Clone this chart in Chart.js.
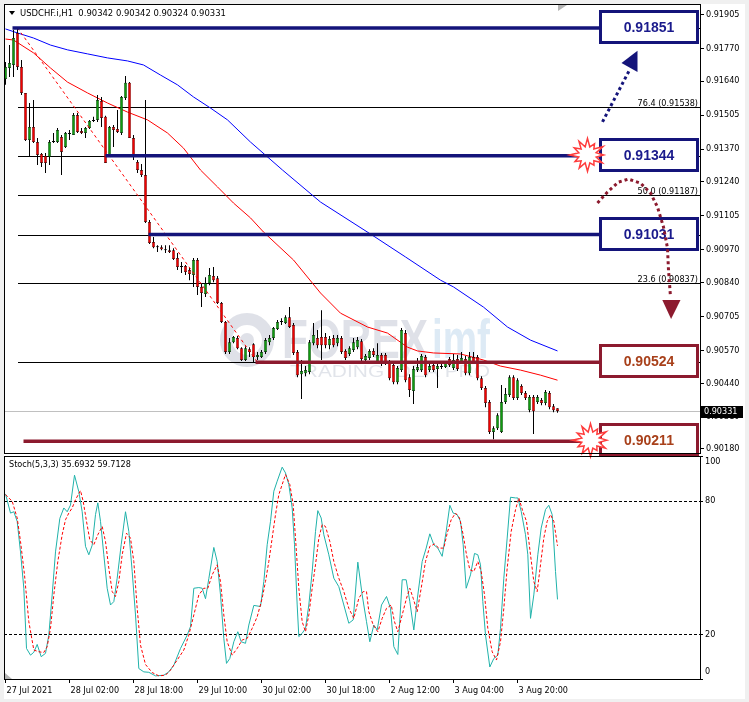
<!DOCTYPE html>
<html><head><meta charset="utf-8"><title>USDCHF.i H1</title>
<script src="https://cdn.jsdelivr.net/npm/chart.js@4.4.1/dist/chart.umd.min.js"></script>
<style>
html,body{margin:0;padding:0;width:749px;height:702px;overflow:hidden;background:#f0f0f0;}
#paper{position:absolute;left:4px;top:4px;width:741px;height:695px;background:#fff;}
canvas{position:absolute;left:0;}
#mainCanvas{top:0;}
#stochCanvas{top:455px;}
</style></head>
<body>
<div id="paper"></div>
<canvas id="mainCanvas" width="749" height="460"></canvas>
<canvas id="stochCanvas" width="749" height="247"></canvas>
<script>
// ================= DATA =================
const symbolHeader = 'USDCHF.i,H1  0.90342 0.90342 0.90324 0.90331';
const stochHeader = 'Stoch(5,3,3) 35.6932 59.7128';
const priceTicks = [0.91905,0.91770,0.91640,0.91505,0.91370,0.91240,0.91105,0.90970,0.90840,0.90705,0.90570,0.90440,0.90310,0.90180];
const stochTicks = [100, 80, 20, 0];
const stochLevels = [80, 20];
const timeLabels = ['27 Jul 2021','28 Jul 02:00','28 Jul 18:00','29 Jul 10:00','30 Jul 02:00','30 Jul 18:00','2 Aug 12:00','3 Aug 04:00','3 Aug 20:00'];
const timeLabelBars = [0,16,32,48,64,80,96,112,128];

const opens = [0.91648,0.91692,0.91704,0.91831,0.91696,0.91593,0.91406,0.91458,0.91398,0.91351,
0.91343,0.91339,0.91398,0.91398,0.91418,0.91378,0.91430,0.91426,0.91505,0.91442,
0.91434,0.91454,0.91482,0.91486,0.91561,0.91498,0.91339,0.91458,0.91450,0.91434,
0.91573,0.91633,0.91414,0.91319,0.91287,0.91267,0.91081,0.91001,0.90985,0.90981,
0.90969,0.90969,0.90969,0.90938,0.90906,0.90906,0.90890,0.90870,0.90930,0.90823,
0.90795,0.90838,0.90866,0.90858,0.90759,0.90684,0.90565,0.90604,0.90620,0.90580,
0.90533,0.90576,0.90596,0.90545,0.90545,0.90565,0.90604,0.90620,0.90656,0.90684,
0.90680,0.90703,0.90672,0.90565,0.90477,0.90481,0.90485,0.90600,0.90620,0.90624,
0.90624,0.90592,0.90620,0.90600,0.90620,0.90569,0.90557,0.90573,0.90584,0.90608,
0.90533,0.90541,0.90569,0.90521,0.90553,0.90553,0.90525,0.90513,0.90445,0.90493,
0.90640,0.90465,0.90410,0.90493,0.90493,0.90545,0.90493,0.90513,0.90497,0.90505,
0.90505,0.90537,0.90501,0.90537,0.90525,0.90537,0.90481,0.90545,0.90545,0.90461,
0.90422,0.90366,0.90247,0.90262,0.90247,0.90366,0.90394,0.90465,0.90382,0.90430,
0.90402,0.90334,0.90386,0.90366,0.90374,0.90362,0.90402,0.90350,0.90342];
const highs = [0.91716,0.91783,0.91843,0.91851,0.91724,0.91593,0.91553,0.91565,0.91414,0.91355,
0.91355,0.91406,0.91434,0.91454,0.91426,0.91438,0.91446,0.91513,0.91513,0.91454,
0.91458,0.91486,0.91498,0.91585,0.91577,0.91502,0.91462,0.91466,0.91525,0.91581,
0.91660,0.91636,0.91426,0.91327,0.91311,0.91565,0.91089,0.91021,0.90989,0.90989,
0.90989,0.90989,0.90977,0.90958,0.90922,0.90910,0.90898,0.90938,0.90938,0.90838,
0.90862,0.90898,0.90902,0.90866,0.90763,0.90688,0.90620,0.90628,0.90628,0.90584,
0.90588,0.90584,0.90600,0.90565,0.90573,0.90620,0.90632,0.90664,0.90692,0.90699,
0.90711,0.90743,0.90680,0.90573,0.90533,0.90509,0.90612,0.90680,0.90652,0.90731,
0.90640,0.90628,0.90632,0.90632,0.90628,0.90576,0.90588,0.90620,0.90624,0.90616,
0.90557,0.90576,0.90580,0.90600,0.90561,0.90561,0.90533,0.90521,0.90509,0.90660,
0.90652,0.90477,0.90509,0.90541,0.90557,0.90553,0.90525,0.90521,0.90521,0.90517,
0.90529,0.90545,0.90557,0.90553,0.90565,0.90549,0.90565,0.90565,0.90553,0.90469,
0.90430,0.90374,0.90270,0.90322,0.90434,0.90422,0.90473,0.90473,0.90461,0.90437,
0.90410,0.90394,0.90394,0.90394,0.90382,0.90414,0.90410,0.90358,0.90342];
const lows = [0.91625,0.91656,0.91656,0.91684,0.91585,0.91402,0.91339,0.91394,0.91307,0.91299,
0.91275,0.91307,0.91394,0.91394,0.91267,0.91374,0.91406,0.91426,0.91434,0.91430,
0.91414,0.91450,0.91478,0.91478,0.91458,0.91315,0.91339,0.91378,0.91434,0.91426,
0.91565,0.91414,0.91327,0.91275,0.91259,0.91077,0.90993,0.90977,0.90962,0.90969,
0.90958,0.90958,0.90930,0.90890,0.90878,0.90870,0.90850,0.90823,0.90791,0.90743,
0.90783,0.90830,0.90842,0.90755,0.90680,0.90557,0.90557,0.90600,0.90576,0.90529,
0.90529,0.90545,0.90525,0.90533,0.90541,0.90557,0.90592,0.90612,0.90652,0.90672,
0.90676,0.90660,0.90553,0.90465,0.90378,0.90469,0.90477,0.90592,0.90580,0.90533,
0.90580,0.90576,0.90584,0.90588,0.90557,0.90533,0.90549,0.90565,0.90576,0.90529,
0.90525,0.90533,0.90545,0.90517,0.90509,0.90513,0.90453,0.90437,0.90437,0.90485,
0.90445,0.90386,0.90358,0.90485,0.90485,0.90465,0.90485,0.90485,0.90422,0.90497,
0.90501,0.90505,0.90493,0.90489,0.90517,0.90473,0.90473,0.90517,0.90453,0.90414,
0.90346,0.90239,0.90219,0.90255,0.90243,0.90358,0.90386,0.90374,0.90374,0.90394,
0.90374,0.90326,0.90239,0.90358,0.90354,0.90354,0.90338,0.90326,0.90324];
const closes = [0.91696,0.91712,0.91811,0.91696,0.91593,0.91406,0.91458,0.91398,0.91347,0.91315,
0.91315,0.91398,0.91402,0.91446,0.91359,0.91434,0.91434,0.91505,0.91438,0.91434,
0.91454,0.91482,0.91486,0.91565,0.91494,0.91315,0.91458,0.91446,0.91438,0.91577,
0.91633,0.91414,0.91339,0.91287,0.91267,0.91081,0.90997,0.90981,0.90981,0.90973,
0.90973,0.90962,0.90934,0.90902,0.90902,0.90882,0.90874,0.90930,0.90823,0.90799,
0.90838,0.90870,0.90850,0.90759,0.90684,0.90565,0.90604,0.90624,0.90580,0.90533,
0.90580,0.90565,0.90545,0.90553,0.90565,0.90612,0.90620,0.90660,0.90684,0.90688,
0.90703,0.90664,0.90561,0.90473,0.90489,0.90493,0.90604,0.90632,0.90592,0.90592,
0.90592,0.90616,0.90592,0.90620,0.90565,0.90541,0.90580,0.90604,0.90612,0.90537,
0.90549,0.90569,0.90553,0.90553,0.90525,0.90521,0.90461,0.90445,0.90501,0.90652,
0.90453,0.90414,0.90497,0.90505,0.90549,0.90473,0.90509,0.90493,0.90509,0.90509,
0.90521,0.90513,0.90533,0.90497,0.90541,0.90481,0.90545,0.90525,0.90461,0.90422,
0.90362,0.90247,0.90262,0.90314,0.90366,0.90398,0.90465,0.90382,0.90453,0.90402,
0.90382,0.90386,0.90330,0.90386,0.90362,0.90406,0.90346,0.90334,0.90331];
const lastPrice = 0.90331;

const maRedBars = [0,2,7,11.25,15.5,20.5,25.5,30.5,35.5,40.5,44.5,48.75,53,57,61.25,64.5,72,78.75,83.75,90.5,95.5,100.5,103,107,113.75,119.5,123.75,128.75,133.75,138];
const maRedValues = [0.91807,0.91803,0.91752,0.91692,0.91636,0.91593,0.91553,0.91517,0.91486,0.91434,0.91374,0.91287,0.91220,0.91156,0.91097,0.91041,0.90930,0.90799,0.90719,0.90664,0.90640,0.90584,0.90569,0.90561,0.90557,0.90533,0.90509,0.90493,0.90473,0.90453];
const maBlueBars = [0,3,7,11.25,15.5,20.5,25.5,30.5,34.5,38.75,43,47,51.25,55.5,61.25,69.25,78.75,91.25,100,108.75,112,119.5,125.5,131.25,138];
const maBlueValues = [0.91847,0.91831,0.91811,0.91783,0.91764,0.91748,0.91732,0.91720,0.91704,0.91664,0.91625,0.91577,0.91533,0.91486,0.91398,0.91287,0.91160,0.91033,0.90942,0.90850,0.90823,0.90743,0.90664,0.90612,0.90569];
const trendBars = [3, 63];
const trendValues = [0.91851, 0.90524];

const fibStartBar = 3;
const fibLevels = [0.91851,0.91538,0.91344,0.91187,0.91031,0.90837,0.90524];
const fibLabels = ['100.0 (0.91851)','76.4 (0.91538)','61.8 (0.91344)','50.0 (0.91187)','38.2 (0.91031)','23.6 (0.90837)','0.0 (0.90524)'];

const levelValues = [0.91851,0.91344,0.91031,0.90524,0.90211];
const levelTexts = ['0.91851','0.91344','0.91031','0.90524','0.90211'];
const levelStartBars = [1.75,25,35.75,62.5,4.5];
const levelKinds = ['up','up','up','down','down'];
const boxStartBar = 148.4;

const upArrowBars = [149.25,156];
const upArrowPrices = [0.91478,0.91684];
const upHeadBars = [158,154,158];
const upHeadPrices = [0.91760,0.91712,0.91676];
const downArcBars = [148,150.5,153.25,155.75,158.75,161.25,163,164.5,165.5,165.75,166.25];
const downArcPrices = [0.91156,0.91200,0.91239,0.91251,0.91235,0.91196,0.91140,0.91061,0.90977,0.90890,0.90783];
const downHeadBars = [164.2,168.75,166.4];
const downHeadPrices = [0.90771,0.90771,0.90696];
const burstBars = [145.5,146.25];
const burstPrices = [0.91347,0.90215];

const stochKBars = [0,1.25,2.08,2.92,3.75,4.58,5.25,6.25,7.08,7.92,8.92,10,10.83,11.67,12.5,13.58,14.58,15.42,16.25,17.25,18.33,19.17,20,20.83,21.67,22.5,23.08,23.75,24.58,25.42,26.25,27.08,27.92,28.92,30,30.83,31.67,32.5,33.33,34.58,35.83,37.5,39.58,40.83,42.08,43.75,45.42,46.25,47.08,48.33,49.17,50,50.83,52.08,52.92,53.75,54.58,55.25,56.08,57.08,58.08,58.92,60,60.83,62.08,63.75,64.58,65.42,66.25,67.08,67.92,69.17,70,70.83,71.67,72.25,72.92,73.33,74.17,75,75.83,76.67,77.5,78.08,78.92,79.58,80.83,82.08,83.33,84.58,85.83,86.92,88.08,89.17,90.25,91.08,92.08,92.92,94,95.25,96.25,97.08,98.08,99.17,100.17,101.08,102.08,103.08,104.17,105.17,106.08,107.08,108.08,109.17,110.17,111.08,111.92,112.92,113.75,114.42,115.17,116.25,117.25,118.08,118.75,119.33,120,121.08,122.08,123.08,123.75,124.58,125.42,126.25,127.5,128.08,128.92,130,130.58,131.25,132.08,133.08,133.92,135,135.83,136.67,137.5,138];
const stochKValues = [83,74.4,75,70.7,57,40.7,13.7,10.7,12,15.5,10,11.5,19.7,37.7,57,72,76.7,75,78,91.4,84,75,59.5,55.7,60,73.7,79,70.7,55.7,40.7,33.2,34.7,45.2,60.2,75,66.2,48.2,28.7,4.7,3.2,3,1.4,1.7,3.2,6.2,13.7,19.7,23.5,40.7,41,40.7,36,45,59,52.7,37.7,18.2,7,9.2,16.7,21.2,16.7,16,24.2,33,32.5,43.7,60.2,70.7,84.2,88.7,95,92.4,87.2,76.7,60.2,33.2,19,20.5,22.7,33.2,48.2,66.2,75.5,72.2,64.7,55.7,45.2,41.4,33.2,25,26.5,52.4,37.7,25.7,16.7,24.2,22,33.2,37,31.7,14.5,11,44.5,44.5,34.7,22,37.7,52.7,58.7,65.1,60.2,58.7,55,66.2,77.9,74.4,73.7,70.7,60.2,40.7,46.7,56.3,55.7,51.2,34.7,19.7,5.4,9.2,10.7,22.7,45.2,63.2,81.5,81.2,81.2,75.2,64.7,55.7,27.2,37.7,55.7,67.7,76,77.9,73.7,48.2,35.69];
const stochDBars = [0,1.67,2.92,3.75,4.75,5.83,7.08,8.33,9.58,10.42,11.25,12.08,13.08,14.17,15,15.83,16.67,17.5,18.75,19.42,20.25,21.08,22.08,23.08,24.17,25,25.83,26.67,27.5,28.33,29.17,30.25,31.25,32.08,32.92,33.75,35,36.67,38.33,40,41.25,42.92,44.58,45.83,47.08,48.33,49.58,50.58,51.67,52.92,53.75,54.58,55.42,56.67,57.92,59.17,60.42,61.67,62.92,64.17,65,65.83,66.67,67.5,68.33,69.17,70,71.08,71.92,72.5,73.33,74.17,75,75.83,76.67,77.5,78.33,79.17,80,81.08,82.08,83.33,84.58,85.83,87.08,88.33,89.42,90.25,90.83,91.92,93.08,94.17,95.25,96.42,97.25,98.08,99.17,100.25,101.08,101.92,102.92,103.92,105,106.08,107.25,108.33,109.58,110.42,111.42,112.5,113.5,114.42,115.25,116.08,117.08,118.08,118.92,119.75,120.58,121.67,122.75,123.75,124.58,125.42,126.42,127.5,128.33,129.33,130.25,131.25,132.08,132.92,133.75,134.58,135.42,136.25,137.08,138];
const stochDValues = [82.7,79.7,72.2,61.7,46.7,25.7,13,12.2,11.9,14.5,22.7,37.7,52.7,64.7,71.4,74.4,76.7,80.4,84.5,79.7,70.7,62.4,60.2,64.7,68.4,61.7,49.7,39.2,37,43.7,55.7,65.4,63.2,52.7,31.7,15.2,6.5,2.9,1.4,1.7,4,8.5,13,19.7,28.7,37.7,40.7,40.7,46.7,51.2,43.7,28.7,16.7,10.7,13.7,17.5,18.2,22.7,27.9,36.2,43.7,52.7,63.2,73.7,82.7,87.2,91.7,87.2,78.2,63.2,40.7,25.7,21.2,28.7,40.7,51.2,63.2,69.2,68.4,61.7,52.7,45.2,39.2,31.7,27.2,36.2,39.2,39.2,30.2,24.2,21.2,27.2,31.7,33.2,25.7,21.2,28.7,36.2,40.7,36.2,30.2,40.7,52.7,59.5,60.5,58.7,58.7,65.4,71.4,74.4,72.2,64.7,55.7,49,48.2,52.7,48.2,37.7,22.7,12.2,8.5,16.7,31.7,49.7,66.2,75.9,81.2,75.2,70.7,55.7,43.7,39.2,51.2,63.2,70.7,73.7,70.7,59.71];

// ================= STYLE =================
const FONT = "'DejaVu Sans Condensed','Liberation Sans',sans-serif";
const NAVY = '#14147a';
const NAVY_TEXT = '#1a1a8c';
const MAROON = '#8c1a2e';
const MAROON_TEXT = '#a8401a';
const BULL = '#0f9a0f';
const BEAR = '#f00000';
const X_MIN = -0.375, X_MAX = 173.625;

// ================= HELPERS =================
const pts = (xs, ys) => xs.map((x, k) => ({x, y: ys[k]}));
const idx = opens.map((_, i) => i);
const wickData = idx.map(i => ({x: i, y: [lows[i], highs[i]]}));
const bodyData = idx.map(i => ({x: i, y: [opens[i], closes[i]]}));
const bodyColors = idx.map(i => closes[i] >= opens[i] ? BULL : BEAR);

function drawWatermark(ctx) {
  ctx.save();
  ctx.strokeStyle = 'rgba(120,130,160,0.24)';
  ctx.lineWidth = 12;
  ctx.beginPath(); ctx.arc(247, 340, 21, 0, Math.PI * 2); ctx.stroke();
  ctx.fillStyle = 'rgba(120,130,160,0.24)';
  ctx.beginPath(); ctx.arc(247, 340, 7, 0, Math.PI * 2); ctx.fill();
  ctx.font = 'bold 56px "Liberation Sans"';
  ctx.textBaseline = 'alphabetic'; ctx.textAlign = 'left';
  let w = ctx.measureText('FOREX').width;
  ctx.save(); ctx.translate(282, 358); ctx.scale(146 / w, 1); ctx.fillText('FOREX', 0, 0); ctx.restore();
  ctx.fillStyle = 'rgba(100,160,210,0.22)';
  w = ctx.measureText('imf').width;
  ctx.save(); ctx.translate(432, 358); ctx.scale(58 / w, 1); ctx.fillText('imf', 0, 0); ctx.restore();
  ctx.font = '16px "Liberation Sans"'; ctx.fillStyle = 'rgba(120,130,160,0.22)';
  w = ctx.measureText('TRADING IDEA PRO').width;
  ctx.save(); ctx.translate(290, 377); ctx.scale(200 / w, 1); ctx.fillText('TRADING IDEA PRO', 0, 0); ctx.restore();
  ctx.restore();
}

function burst(ctx, cx, cy, r) {
  const f = [1, 0.78, 1, 0.9, 0.95, 0.72, 1, 0.92, 0.8, 1, 0.85, 0.95];
  const n = f.length;
  ctx.beginPath();
  for (let k = 0; k < n * 2; k++) {
    const ang = -Math.PI / 2 + k * Math.PI / n;
    const rr = k % 2 === 0 ? r * f[k / 2] : r * 0.5;
    const px = cx + rr * Math.cos(ang), py = cy + rr * Math.sin(ang) * 0.92;
    if (k === 0) ctx.moveTo(px, py); else ctx.lineTo(px, py);
  }
  ctx.closePath();
  ctx.fillStyle = '#fff'; ctx.fill();
  ctx.strokeStyle = '#ff3c3c'; ctx.lineWidth = 1.5; ctx.stroke();
}

// ================= MAIN CHART =================
const mainPlugin = {
  id: 'mainDecor',
  beforeDatasetsDraw(chart) {
    const {ctx, chartArea: a, scales: {x, y}} = chart;
    ctx.save();
    drawWatermark(ctx);
    ctx.strokeStyle = '#000'; ctx.lineWidth = 1;
    const fx = Math.round(x.getPixelForValue(fibStartBar));
    fibLevels.forEach(v => {
      const py = Math.round(y.getPixelForValue(v)) + 0.5;
      ctx.beginPath(); ctx.moveTo(fx, py); ctx.lineTo(a.right, py); ctx.stroke();
    });
    ctx.strokeStyle = '#c0c0c0';
    const cy = Math.round(y.getPixelForValue(lastPrice)) + 0.5;
    ctx.beginPath(); ctx.moveTo(a.left, cy); ctx.lineTo(a.right, cy); ctx.stroke();
    ctx.restore();
  },
  afterDraw(chart) {
    const {ctx, chartArea: a, scales: {x, y}} = chart;
    ctx.save();
    ctx.font = '9px ' + FONT; ctx.fillStyle = '#000';
    ctx.textAlign = 'right'; ctx.textBaseline = 'alphabetic';
    fibLevels.forEach((v, k) => ctx.fillText(fibLabels[k], a.right - 2, Math.round(y.getPixelForValue(v)) - 1));
    const bx0 = Math.floor(x.getPixelForValue(boxStartBar));
    const bx1 = a.right - 1;
    levelValues.forEach((v, k) => {
      const py = y.getPixelForValue(v);
      ctx.strokeStyle = levelKinds[k] === 'up' ? NAVY : MAROON;
      ctx.lineWidth = 3.5;
      ctx.beginPath(); ctx.moveTo(x.getPixelForValue(levelStartBars[k]), py); ctx.lineTo(bx0, py); ctx.stroke();
    });
    levelValues.forEach((v, k) => {
      const py = Math.round(y.getPixelForValue(v));
      const up = levelKinds[k] === 'up';
      const h = 34, top = py - 18;
      ctx.fillStyle = '#fff'; ctx.fillRect(bx0, top, bx1 - bx0, h);
      ctx.lineWidth = 3; ctx.strokeStyle = up ? NAVY : MAROON;
      ctx.strokeRect(bx0 + 1.5, top + 1.5, bx1 - bx0 - 3, h - 3);
      ctx.font = 'bold 14px "Liberation Sans"'; ctx.textAlign = 'center'; ctx.textBaseline = 'middle';
      ctx.fillStyle = up ? NAVY_TEXT : MAROON_TEXT;
      ctx.fillText(levelTexts[k], (bx0 + bx1) / 2, top + h / 2 + 1);
    });
    ctx.setLineDash([3, 3]); ctx.lineWidth = 3; ctx.strokeStyle = NAVY;
    ctx.beginPath();
    upArrowBars.forEach((b, k) => { const px = x.getPixelForValue(b), py = y.getPixelForValue(upArrowPrices[k]); k ? ctx.lineTo(px, py) : ctx.moveTo(px, py); });
    ctx.stroke();
    ctx.setLineDash([]); ctx.fillStyle = NAVY;
    ctx.beginPath();
    upHeadBars.forEach((b, k) => { const px = x.getPixelForValue(b), py = y.getPixelForValue(upHeadPrices[k]); k ? ctx.lineTo(px, py) : ctx.moveTo(px, py); });
    ctx.closePath(); ctx.fill();
    ctx.setLineDash([3, 3]); ctx.lineWidth = 3; ctx.strokeStyle = MAROON;
    ctx.beginPath();
    downArcBars.forEach((b, k) => { const px = x.getPixelForValue(b), py = y.getPixelForValue(downArcPrices[k]); k ? ctx.lineTo(px, py) : ctx.moveTo(px, py); });
    ctx.stroke();
    ctx.setLineDash([]); ctx.fillStyle = MAROON;
    ctx.beginPath();
    downHeadBars.forEach((b, k) => { const px = x.getPixelForValue(b), py = y.getPixelForValue(downHeadPrices[k]); k ? ctx.lineTo(px, py) : ctx.moveTo(px, py); });
    ctx.closePath(); ctx.fill();
    burstBars.forEach((b, k) => burst(ctx, x.getPixelForValue(b), y.getPixelForValue(burstPrices[k]), 18));
    ctx.strokeStyle = '#000'; ctx.lineWidth = 1;
    ctx.strokeRect(a.left + 0.5, a.top - 0.5, a.right - a.left, a.bottom - a.top + 1);
    const cy = Math.round(y.getPixelForValue(lastPrice));
    ctx.fillStyle = '#000'; ctx.fillRect(a.right + 1, cy - 5, 42, 12);
    ctx.fillStyle = '#fff'; ctx.font = '9px ' + FONT; ctx.textAlign = 'left'; ctx.textBaseline = 'middle';
    ctx.fillText(lastPrice.toFixed(5), a.right + 4, cy + 1);
    ctx.fillStyle = '#000';
    ctx.beginPath(); ctx.moveTo(9, 11); ctx.lineTo(15, 11); ctx.lineTo(12, 15); ctx.closePath(); ctx.fill();
    ctx.font = '9.4px ' + FONT; ctx.textAlign = 'left'; ctx.textBaseline = 'middle';
    ctx.fillText(symbolHeader, 20, 13.5);
    ctx.fillStyle = '#b4b4b4';
    ctx.beginPath(); ctx.moveTo(558, 5); ctx.lineTo(567, 5); ctx.lineTo(558, 11); ctx.closePath(); ctx.fill();
    ctx.restore();
  }
};

new Chart(document.getElementById('mainCanvas'), {
  type: 'bar',
  data: {
    datasets: [
      {type: 'line', data: pts(maBlueBars, maBlueValues), borderColor: '#0000ff', borderWidth: 1, pointRadius: 0, tension: 0, order: 5},
      {type: 'line', data: pts(maRedBars, maRedValues), borderColor: '#ff0000', borderWidth: 1, pointRadius: 0, tension: 0, order: 4},
      {type: 'bar', data: wickData, backgroundColor: '#000', borderWidth: 0, grouped: false, barPercentage: 0.25, categoryPercentage: 1, maxBarThickness: 1, inflateAmount: 0, order: 3},
      {type: 'bar', data: bodyData, backgroundColor: bodyColors, borderColor: '#000', borderWidth: 0.5, borderSkipped: false, grouped: false, barPercentage: 0.75, categoryPercentage: 1, maxBarThickness: 3, minBarLength: 1, inflateAmount: 0, order: 2},
      {type: 'line', data: pts(trendBars, trendValues), borderColor: '#ff0000', borderWidth: 1, borderDash: [3, 3], pointRadius: 0, order: 1}
    ]
  },
  options: {
    responsive: false, animation: false, devicePixelRatio: 1,
    layout: {padding: {top: 5, left: 4, right: 0, bottom: 7}},
    plugins: {legend: {display: false}, tooltip: {enabled: false}},
    scales: {
      x: {type: 'linear', min: X_MIN, max: X_MAX, display: false, offset: false},
      y: {
        position: 'right', min: 0.90164, max: 0.91942,
        afterBuildTicks: s => { s.ticks = priceTicks.map(v => ({value: v})); },
        afterFit: s => { s.width = 49; s.paddingTop = 0; s.paddingBottom = 0; },
        grid: {display: true, drawOnChartArea: false, drawTicks: true, tickLength: 4, color: '#000'},
        border: {display: false},
        ticks: {color: '#000', padding: 2, autoSkip: false, font: {family: FONT, size: 9}, callback: v => Number(v).toFixed(5)}
      }
    }
  },
  plugins: [mainPlugin]
});

// ================= STOCHASTIC CHART =================
const stochPlugin = {
  id: 'stochDecor',
  beforeDatasetsDraw(chart) {
    const {ctx, chartArea: a, scales: {y}} = chart;
    ctx.save();
    ctx.strokeStyle = '#000'; ctx.lineWidth = 1; ctx.setLineDash([3, 2]);
    stochLevels.forEach(v => {
      const py = Math.round(y.getPixelForValue(v)) + 0.5;
      ctx.beginPath(); ctx.moveTo(a.left, py); ctx.lineTo(a.right, py); ctx.stroke();
    });
    ctx.restore();
  },
  afterDraw(chart) {
    const {ctx, chartArea: a, scales: {y}} = chart;
    ctx.save();
    ctx.strokeStyle = '#000'; ctx.lineWidth = 1;
    ctx.strokeRect(a.left + 0.5, a.top + 0.5, a.right - a.left, a.bottom - a.top);
    ctx.font = '9px ' + FONT; ctx.fillStyle = '#000'; ctx.textAlign = 'left'; ctx.textBaseline = 'middle';
    stochTicks.forEach(v => {
      const py = y.getPixelForValue(v);
      const ly = Math.min(Math.max(py, a.top + 6), a.bottom - 7);
      ctx.beginPath(); ctx.moveTo(a.right, Math.round(py) + 0.5); ctx.lineTo(a.right + 3, Math.round(py) + 0.5); ctx.stroke();
      ctx.fillText(String(v), a.right + 5, ly);
    });
    ctx.fillText(stochHeader, 9, a.top + 9);
    ctx.fillStyle = '#b4b4b4';
    ctx.beginPath(); ctx.moveTo(a.left + 1, a.bottom - 6); ctx.lineTo(a.left + 8, a.bottom); ctx.lineTo(a.left + 1, a.bottom); ctx.closePath(); ctx.fill();
    ctx.restore();
  }
};

new Chart(document.getElementById('stochCanvas'), {
  type: 'line',
  data: {
    datasets: [
      {data: pts(stochKBars, stochKValues), borderColor: '#20b2aa', borderWidth: 1, pointRadius: 0, tension: 0, order: 2},
      {data: pts(stochDBars, stochDValues), borderColor: '#ff0000', borderWidth: 1, borderDash: [3, 2], pointRadius: 0, tension: 0, order: 1}
    ]
  },
  options: {
    responsive: false, animation: false, devicePixelRatio: 1,
    layout: {padding: {top: 1, left: 4, right: 0, bottom: 0}},
    plugins: {legend: {display: false}, tooltip: {enabled: false}},
    scales: {
      x: {
        type: 'linear', min: X_MIN, max: X_MAX, offset: false,
        afterBuildTicks: s => { s.ticks = timeLabelBars.map(v => ({value: v})); },
        afterFit: s => { s.height = 23; s.paddingLeft = 0; s.paddingRight = 0; },
        grid: {display: true, drawOnChartArea: false, drawTicks: true, tickLength: 4, color: '#000'},
        border: {display: false},
        ticks: {color: '#000', align: 'start', labelOffset: 1, padding: 2, maxRotation: 0, autoSkip: false, font: {family: FONT, size: 9}, callback: (v, i) => timeLabels[i]}
      },
      y: {
        position: 'right', min: 0, max: 100,
        afterFit: s => { s.width = 49; s.paddingTop = 0; s.paddingBottom = 0; },
        grid: {display: false}, border: {display: false}, ticks: {display: false}
      }
    }
  },
  plugins: [stochPlugin]
});
</script>
</body></html>
